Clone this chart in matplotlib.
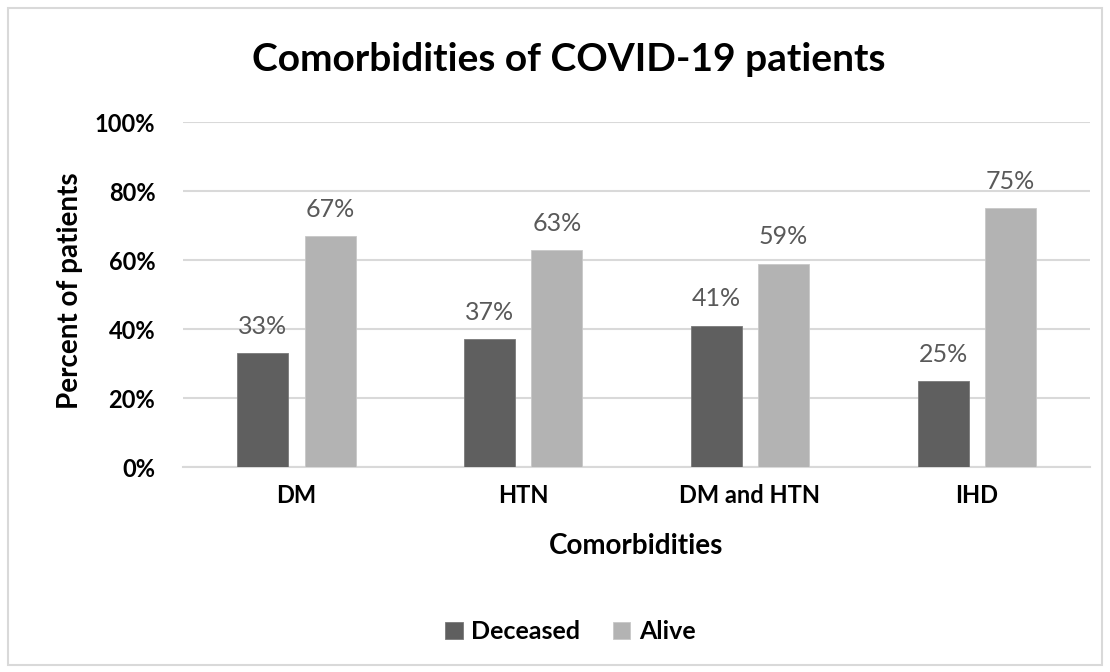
import numpy as np
import matplotlib.pyplot as plt
from matplotlib.patches import Rectangle

# comorbidity percentages
categories = ['DM', 'HTN', 'DM and HTN', 'IHD']
deceased = [33, 37, 41, 25]
alive = [67, 63, 59, 75]

plt.rcParams['font.family'] = ['Lato', 'DejaVu Sans']

fig = plt.figure(figsize=(11.1, 6.72), dpi=100)
fig.patches.append(Rectangle((0.007, 0.01), 0.986, 0.978, transform=fig.transFigure,
                             fill=False, edgecolor='#d9d9d9', linewidth=1.5))
ax = fig.add_axes([0.165, 0.305, 0.817, 0.513])

x = np.arange(len(categories))
w = 0.225
b1 = ax.bar(x - 0.148, deceased, w, color='#5f5f5f', edgecolor='#7a7a7a', linewidth=0.6, label='Deceased', zorder=3)
b2 = ax.bar(x + 0.148, alive, w, color='#b3b3b3', edgecolor='#c8c8c8', linewidth=0.6, label='Alive', zorder=3)

for bars, vals in [(b1, deceased), (b2, alive)]:
    for r, v in zip(bars, vals):
        ax.annotate('%d%%' % v, (r.get_x() + r.get_width() / 2, v), xytext=(0, 11),
                    textcoords='offset points', ha='center', va='bottom',
                    fontsize=18, color='#595959')

ax.set_xlim(-0.5, 3.5)
ax.set_ylim(0, 100)
ax.set_yticks([0, 20, 40, 60, 80, 100])
ax.set_yticklabels(['0%', '20%', '40%', '60%', '80%', '100%'], fontsize=17, fontweight='bold')
ax.set_xticks(x)
ax.set_xticklabels(categories, fontsize=17, fontweight='bold')
ax.tick_params(axis='y', length=0, pad=20)
ax.tick_params(axis='x', length=0, pad=12)
ax.grid(axis='y', color='#d9d9d9', linewidth=1.5, zorder=0)
for s in ['top', 'right', 'left']:
    ax.spines[s].set_visible(False)
ax.spines['bottom'].set_color('#d9d9d9')
ax.spines['bottom'].set_linewidth(1.5)

fig.text(0.512, 0.911, 'Comorbidities of COVID-19 patients', fontsize=28, fontweight='bold',
         ha='center', va='center')
fig.text(0.573, 0.1875, 'Comorbidities', fontsize=20, fontweight='bold', ha='center', va='center')
fig.text(0.063, 0.568, 'Percent of patients', fontsize=20, fontweight='bold', rotation=90,
         ha='center', va='center')

fig.legend(loc='center', bbox_to_anchor=(0.514, 0.06), ncol=2, frameon=False,
           prop={'size': 18, 'weight': 'bold'}, handlelength=0.7, handleheight=0.7,
           handletextpad=0.35, columnspacing=1.3)

plt.savefig('out.png', dpi=100)
